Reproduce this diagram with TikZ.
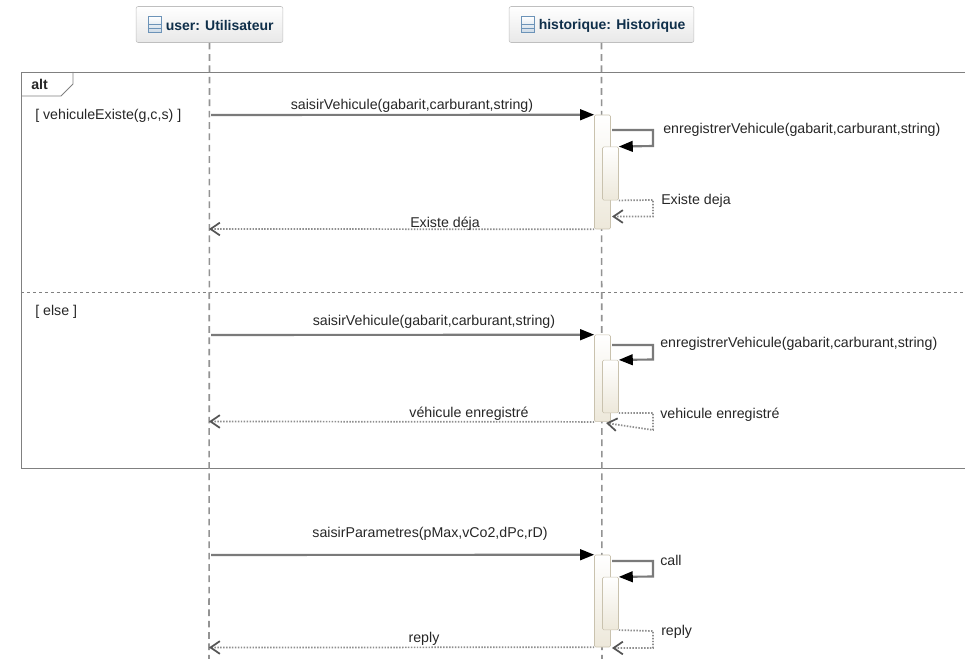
\documentclass[tikz,border=0pt]{standalone}
\usepackage{fontspec}
\setmainfont{Liberation Sans}
\usepackage{tikz}
\usetikzlibrary{arrows.meta}
\usetikzlibrary{positioning}

\definecolor{lineGrey}{HTML}{7A7A7A}
\definecolor{frameGrey}{HTML}{808080}
\definecolor{titleBlue}{HTML}{0F2F4A}
\definecolor{barEdge}{HTML}{C9C2AE}
\definecolor{barLow}{HTML}{EDE8DA}
\definecolor{iconBlue}{HTML}{6C93B8}

\tikzset{
  lifehead/.style={draw=black!25, rounded corners=1.5pt, top color=white, bottom color=black!9, minimum height=27pt, inner sep=0pt},
  headtext/.style={inner sep=0pt, anchor=west, text=titleBlue, font=\fontsize{10.5pt}{12pt}\selectfont\bfseries},
  lifeline/.style={draw=frameGrey!85, line width=1.2pt, dash pattern=on 5pt off 3.5pt},
  actbar/.style={draw=barEdge, rounded corners=1pt, top color=white, bottom color=barLow, minimum width=12pt, inner sep=0pt},
  msg/.style={draw=lineGrey, line width=1.6pt, -{Triangle[length=10.5pt,width=8pt,color=black]}},
  back/.style={draw=lineGrey!85, line width=1.3pt, dash pattern=on 1.1pt off 1.1pt, -{Straight Barb[length=7pt,width=9.5pt,color=lineGrey!70!black]}},
  lbl/.style={inner sep=0pt, text=black!85, font=\fontsize{10.65pt}{12pt}\selectfont},
  lblleft/.style={lbl, anchor=west},
}

\begin{document}
\begin{tikzpicture}[x=0.75pt, y=-0.75pt]
  \useasboundingbox (0, 0) rectangle (965, 659);

  % frame
  \draw [frameGrey, line width=0.7pt] (965, 72) -- (21.5, 72) -- (21.5, 468) -- (965, 468);
  \draw [frameGrey, line width=0.7pt] (21.5, 96) -- (61, 96) -- (73, 84) -- (73, 72);
  \draw [frameGrey, line width=0.6pt, dash pattern=on 2.2pt off 2.2pt] (21.5, 292.5) -- (965, 292.5);
  \node [lblleft, font=\fontsize{10.65pt}{12pt}\selectfont\bfseries] (altLabel) at (31, 84) {alt};
  \node [lblleft] (guardExists) at (35, 116) {[ vehiculeExiste(g,c,s) ]};
  \node [lblleft] (guardElse) at (35, 312) {[ else ]};

  % heads and lifelines
  \node [lifehead, minimum width=110pt] (user) at (209.5, 24.5) {};
  \node [lifehead, minimum width=138.5pt] (historique) at (601.5, 24.5) {};
  \coordinate (userEnd) at (209, 659);
  \coordinate (historiqueEnd) at (602, 659);
  \draw [lifeline] (user.south) -- (userEnd);
  \draw [lifeline] (historique.south) -- (historiqueEnd);

  \node [headtext] (userTitle) at (165.5, 25.5) {user: Utilisateur};
  \node [headtext] (historiqueTitle) at (538.5, 25.5) {historique: Historique};
  \foreach \name/\xpos in {userIcon/155, historiqueIcon/528} {
    \node [draw=iconBlue, line width=0.7pt, top color=white, bottom color=iconBlue!35, minimum width=10pt, minimum height=12pt, inner sep=0pt] (\name) at (\xpos, 24.5) {};
    \draw [iconBlue, line width=0.6pt] ([yshift=-6.5pt]\name.north west) -- ([yshift=-6.5pt]\name.north east);
    \draw [iconBlue, line width=0.6pt] ([yshift=-9pt]\name.north west) -- ([yshift=-9pt]\name.north east);
  }

  % activation bars
  \node [actbar, minimum height=85.5pt] (barA) at (602.5, 172) {};
  \node [actbar, minimum height=40pt] (subA) at (610.5, 173.5) {};
  \node [actbar, minimum height=65pt] (barB) at (602.5, 378.3) {};
  \node [actbar, minimum height=39.5pt] (subB) at (610.5, 386.5) {};
  \node [actbar, minimum height=69pt] (barC) at (602.5, 601) {};
  \node [actbar, minimum height=39.5pt] (subC) at (610.5, 603.5) {};

  % first alternative
  \coordinate (startA) at (211, 115);
  \coordinate (endA) at (209, 229);
  \draw [msg] (startA) -- (barA.north west);
  \node [lbl] (saisirA) at (412, 106) {saisirVehicule(gabarit,carburant,string)};
  \draw [msg] (612, 130) -- (653, 130) -- (653, 146) -- (subA.north east);
  \draw [back] (subA.south east) -- (653, 200) -- (653, 216.5) -- (612, 216.5);
  \draw [back] (barA.south west) -- (endA);
  \node [lbl] (existeA) at (445, 224) {Existe déja};
  \node [lblleft] (enregA) at (663, 130) {enregistrerVehicule(gabarit,carburant,string)};
  \node [lblleft] (retourA) at (661, 201) {Existe deja};

  % second alternative
  \coordinate (startB) at (211, 335);
  \coordinate (endB) at (209, 421.5);
  \draw [msg] (startB) -- (barB.north west);
  \node [lbl] (saisirB) at (434, 322) {saisirVehicule(gabarit,carburant,string)};
  \draw [msg] (612, 345) -- (653, 345) -- (653, 359.5) -- (subB.north east);
  \draw [back] (subB.south east) -- (653, 413) -- (653, 430) -- (606, 423);
  \draw [back] (barB.south west) -- (endB);
  \node [lbl] (enregistreB) at (469, 414) {véhicule enregistré};
  \node [lblleft] (enregB) at (660, 344) {enregistrerVehicule(gabarit,carburant,string)};
  \node [lblleft] (retourB) at (660, 415) {vehicule enregistré};

  % parameters
  \coordinate (startC) at (211, 555);
  \coordinate (endC) at (209, 647.5);
  \draw [msg] (startC) -- (barC.north west);
  \node [lbl] (saisirC) at (430, 534) {saisirParametres(pMax,vCo2,dPc,rD)};
  \draw [msg] (612, 561) -- (653, 561) -- (653, 576.5) -- (subC.north east);
  \draw [back] (subC.south east) -- (653, 631) -- (653, 648) -- (612, 648);
  \draw [back] (barC.south west) -- (endC);
  \node [lbl] (replyC) at (424, 639) {reply};
  \node [lblleft] (callC) at (660, 560) {call};
  \node [lblleft] (retourC) at (661, 632) {reply};
\end{tikzpicture}
\end{document}
